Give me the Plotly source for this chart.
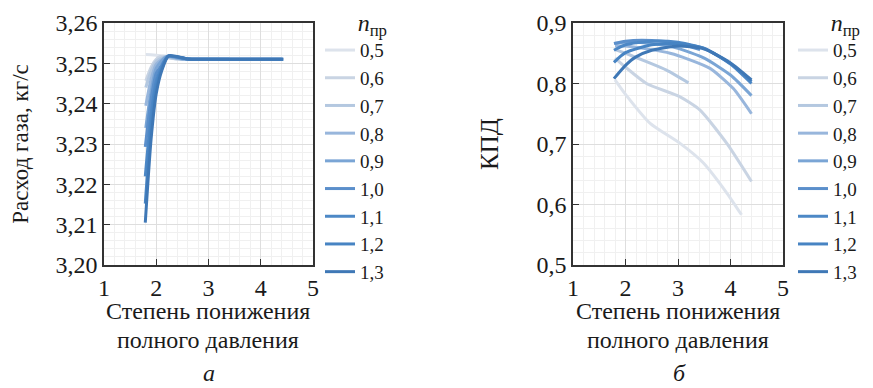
import plotly.graph_objects as go

speeds = ["0,5", "0,6", "0,7", "0,8", "0,9", "1,0", "1,1", "1,2", "1,3"]
colors = ["#dde3ec", "#c9d4e3", "#b4c8e0", "#98b6dc", "#7aa5d5",
          "#5b8fcb", "#4d88c6", "#4784c3", "#3f78b6"]

# (a) gas flow, kg/s vs pressure ratio
flow_x = [
    [1.80, 1.90, 2.00, 2.13, 2.40, 3.00, 3.60, 4.20],
    [1.80, 1.90, 2.00, 2.08, 2.30, 3.00, 3.80, 4.40],
    [1.80, 1.90, 2.00, 2.15, 2.40, 3.20],
    [1.80, 1.90, 2.00, 2.20, 2.50, 3.50, 4.40],
    [1.80, 1.90, 2.00, 2.20, 2.50, 3.50, 4.40],
    [1.79, 1.90, 2.00, 2.10, 2.22, 2.60, 3.40],
    [1.79, 1.90, 2.00, 2.10, 2.23, 2.60, 3.50, 4.43],
    [1.79, 1.90, 2.00, 2.10, 2.23, 2.60, 3.50, 4.43],
    [1.79, 1.90, 2.00, 2.10, 2.24, 2.60, 3.50, 4.43],
]
flow_y = [
    [3.2522, 3.2521, 3.2520, 3.2519, 3.2513, 3.2510, 3.2510, 3.2510],
    [3.2457, 3.2490, 3.2510, 3.2517, 3.2512, 3.2510, 3.2510, 3.2510],
    [3.2440, 3.2480, 3.2505, 3.2516, 3.2511, 3.2510],
    [3.2395, 3.2460, 3.2498, 3.2516, 3.2511, 3.2510, 3.2510],
    [3.2340, 3.2430, 3.2488, 3.2517, 3.2511, 3.2510, 3.2510],
    [3.2293, 3.2410, 3.2475, 3.2495, 3.2517, 3.2511, 3.2510],
    [3.2220, 3.2370, 3.2455, 3.2490, 3.2518, 3.2511, 3.2510, 3.2510],
    [3.2152, 3.2340, 3.2440, 3.2485, 3.2518, 3.2511, 3.2510, 3.2510],
    [3.2105, 3.2310, 3.2425, 3.2480, 3.2519, 3.2511, 3.2510, 3.2510],
]

# (б) efficiency vs pressure ratio
eff_x = [
    [1.80, 2.00, 2.47, 3.04, 3.48, 3.93, 4.21],
    [1.80, 2.00, 2.40, 3.04, 3.42, 3.93, 4.40],
    [1.80, 2.00, 2.40, 2.78, 3.20],
    [1.80, 2.00, 2.50, 2.85, 3.20, 3.61, 4.05, 4.40],
    [1.80, 2.00, 2.50, 3.00, 3.50, 4.00, 4.40],
    [1.78, 2.00, 2.50, 3.00, 3.42],
    [1.78, 2.00, 2.50, 3.00, 3.50, 4.00, 4.40],
    [1.78, 2.00, 2.50, 3.00, 3.50, 4.00, 4.40],
    [1.78, 2.00, 2.20, 2.50, 3.00, 3.50, 4.00, 4.40],
]
eff_y = [
    [0.806, 0.782, 0.734, 0.701, 0.669, 0.619, 0.583],
    [0.842, 0.827, 0.800, 0.778, 0.756, 0.701, 0.638],
    [0.856, 0.850, 0.836, 0.822, 0.801],
    [0.862, 0.862, 0.856, 0.850, 0.840, 0.825, 0.792, 0.750],
    [0.866, 0.868, 0.866, 0.858, 0.842, 0.814, 0.780],
    [0.866, 0.870, 0.871, 0.866, 0.856],
    [0.855, 0.864, 0.870, 0.868, 0.858, 0.832, 0.800],
    [0.835, 0.851, 0.864, 0.866, 0.858, 0.833, 0.803],
    [0.808, 0.830, 0.844, 0.855, 0.862, 0.857, 0.834, 0.806],
]

x_title_lines = ["Степень понижения", "полного давления"]
FONT = '"Liberation Serif", "Times New Roman", Times, serif'
TXT = "#1a1a1a"
OFF = 8                      # page body margin
W, H = 873 - 2 * OFF, 388 - OFF

fig = go.Figure()
for i, s in enumerate(speeds):
    fig.add_trace(go.Scatter(x=flow_x[i], y=flow_y[i], mode="lines", name=s,
                             line=dict(color=colors[i], width=3, shape="spline", smoothing=0.6),
                             xaxis="x", yaxis="y", legend="legend"))
for i, s in enumerate(speeds):
    fig.add_trace(go.Scatter(x=eff_x[i], y=eff_y[i], mode="lines", name=s,
                             line=dict(color=colors[i], width=3, shape="spline", smoothing=0.6),
                             xaxis="x2", yaxis="y2", legend="legend2"))

def px_x(p):
    return (p - OFF) / W

def px_y(p):
    return 1 - (p - OFF) / H

axis_common = dict(
    showline=True, linecolor="#333333", linewidth=1.5, mirror=True,
    ticks="inside", ticklen=6, tickcolor="#333333", tickwidth=1.2,
    showgrid=True, gridcolor="#dedede", gridwidth=1,
    zeroline=False, automargin=False,
    tickfont=dict(family=FONT, size=24, color=TXT),
    title_font=dict(family=FONT, size=23, color=TXT),
)

xa = dict(axis_common, range=[1, 5], dtick=1, tick0=1,
          minor=dict(dtick=0.2, showgrid=True, gridcolor="#f0f0f0", ticks=""))

leg_common = dict(xanchor="left", yanchor="top", y=px_y(0), maxheight=600,
                  bgcolor="rgba(0,0,0,0)", font=dict(family=FONT, size=19, color=TXT),
                  title=dict(text="<i>n</i><sub>пр</sub>", side="top right",
                             font=dict(family=FONT, size=24, color=TXT)))

annots = []
for cx, lab in [(208, "<i>а</i>"), (678, "<i>б</i>")]:
    for k, line in enumerate(x_title_lines):
        annots.append(dict(text=line, x=px_x(cx), y=px_y(311 + 29 * k), xref="paper", yref="paper",
                           xanchor="center", yanchor="middle", showarrow=False,
                           font=dict(family=FONT, size=24, color=TXT)))
    annots.append(dict(text=lab, x=px_x(cx + 1), y=px_y(373), xref="paper", yref="paper",
                       xanchor="center", yanchor="middle", showarrow=False,
                       font=dict(family=FONT, size=24, color=TXT)))

fig.update_layout(
    width=W, height=H,
    margin=dict(l=0, r=0, t=0, b=0, autoexpand=False),
    paper_bgcolor="white", plot_bgcolor="white",
    separators=", ",
    font=dict(family=FONT, color=TXT),
    xaxis=dict(xa, domain=[px_x(104), px_x(313)], anchor="y"),
    yaxis=dict(axis_common, range=[3.20, 3.26], dtick=0.01, tickformat=".2f",
               domain=[px_y(265), px_y(23)], anchor="x",
               minor=dict(dtick=0.002, showgrid=True, gridcolor="#f0f0f0", ticks=""),
               title=dict(text="Расход газа, кг/с", standoff=20)),
    xaxis2=dict(xa, domain=[px_x(573), px_x(783)], anchor="y2"),
    yaxis2=dict(axis_common, range=[0.5, 0.9], dtick=0.1, tickformat=".1f",
                domain=[px_y(265), px_y(23)], anchor="x2",
                minor=dict(dtick=0.02, showgrid=True, gridcolor="#f0f0f0", ticks=""),
                title=dict(text="КПД", standoff=31, font=dict(family=FONT, size=25, color=TXT))),
    legend=dict(leg_common, x=px_x(320)),
    legend2=dict(leg_common, x=px_x(793)),
    annotations=annots,
)

fig.write_html("out.html")
